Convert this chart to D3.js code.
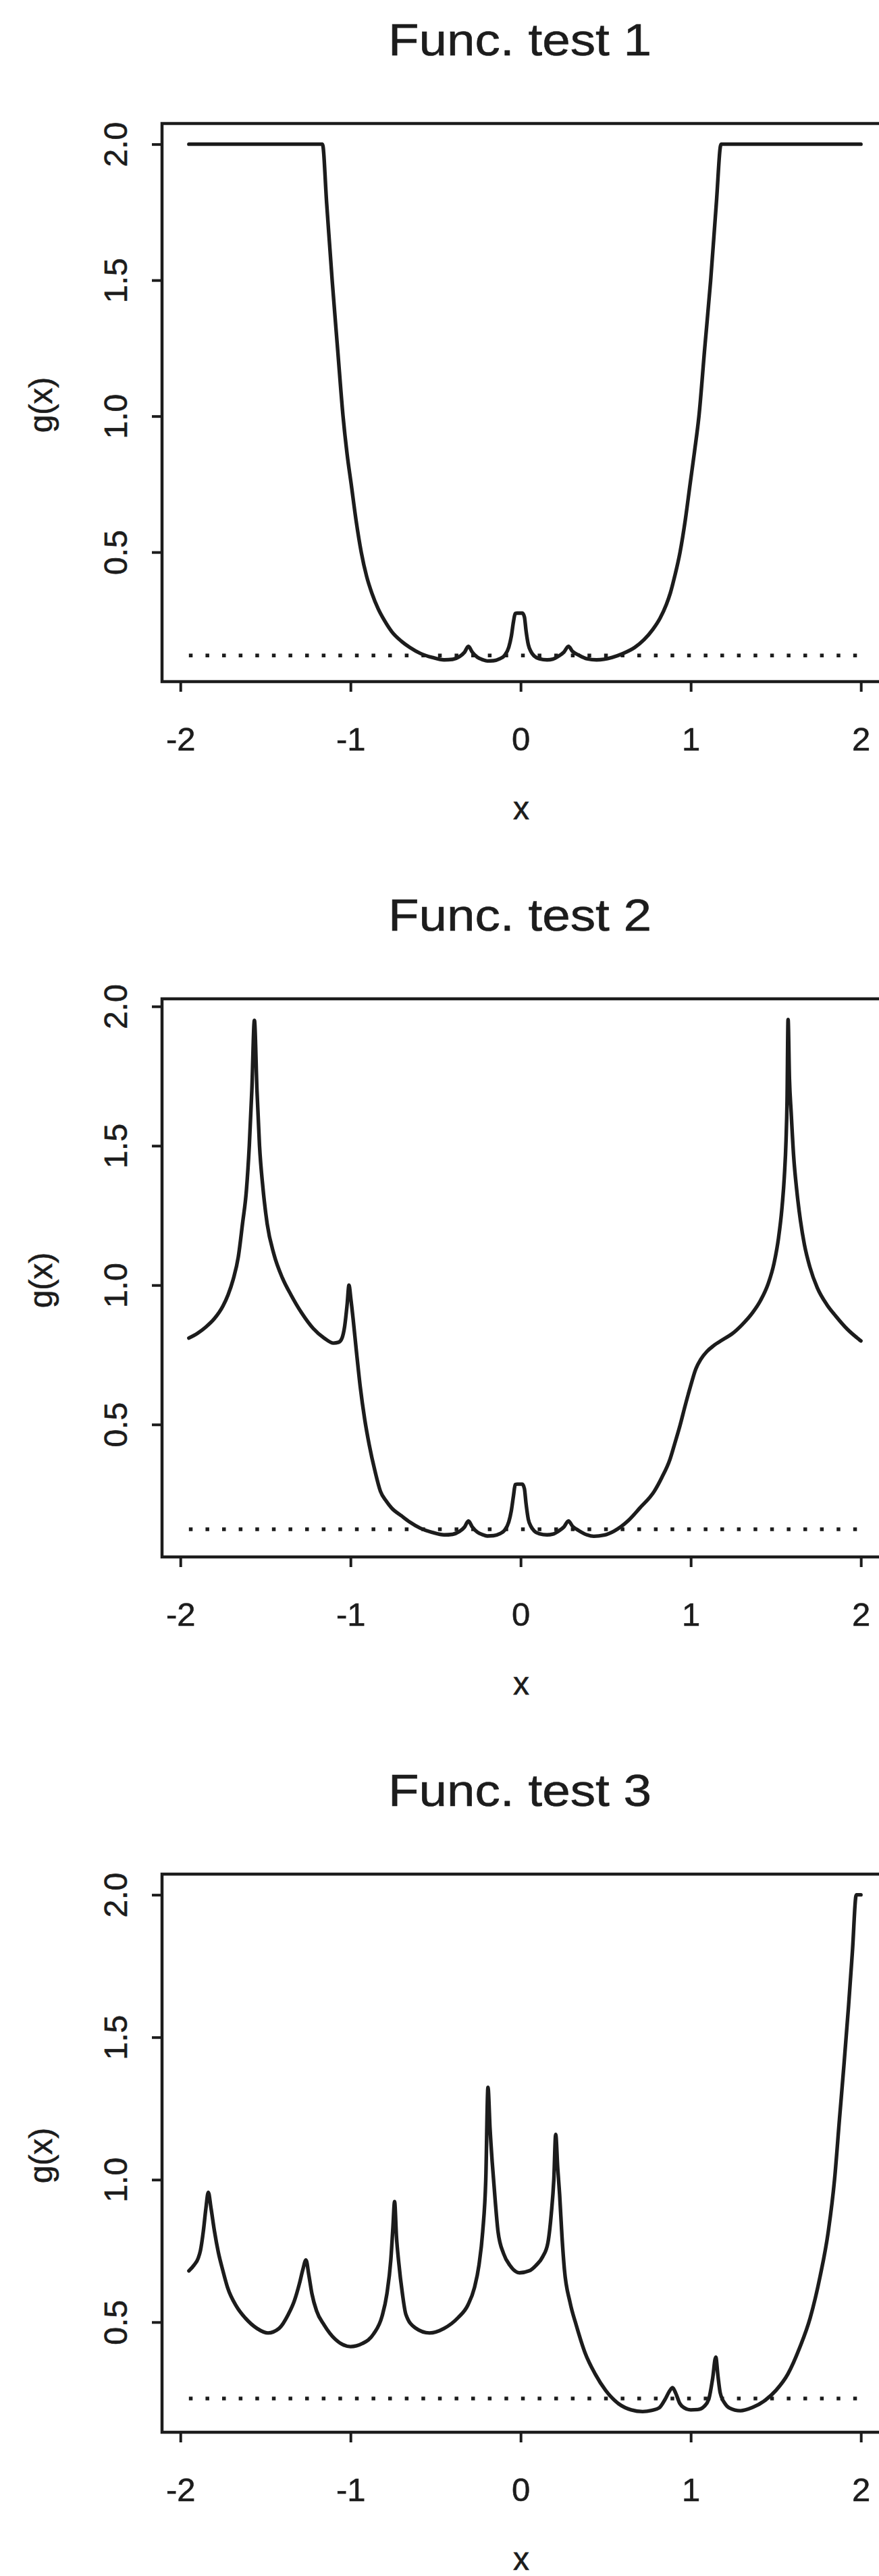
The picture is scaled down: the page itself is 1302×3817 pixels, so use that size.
<!DOCTYPE html>
<html><head><meta charset="utf-8">
<script src="https://cdn.jsdelivr.net/npm/d3@7"></script>
<style>body{margin:0;background:#fff}text{font-family:"Liberation Sans",Arial,Helvetica,sans-serif;fill:#1c1c1c;stroke:#1c1c1c;stroke-width:0.6px}</style>
</head><body>
<svg id="c" width="1302" height="3817"></svg>
<script>
// ---- data ----
const titles = ["Func. test 1", "Func. test 2", "Func. test 3"];
const xTicks = [-2, -1, 0, 1, 2];
const yTicks = [0.5, 1.0, 1.5, 2.0];
const xLabel = "x";
const yLabel = "g(x)";
const refLevels = [0.12, 0.124, 0.232];   // dotted horizontal reference lines
const refRange = [-1.95, 2.0];

const test1X = [-1.95,-1.165,-1.14,-1.108,-1.075,-1.044,-1.02,-0.996,-0.967,-0.937,-0.905,-0.875,-0.837,-0.80,-0.758,-0.70,-0.652,-0.59,-0.52,-0.45,-0.40,-0.36,-0.33,-0.307,-0.285,-0.255,-0.225,-0.196,-0.16,-0.123,-0.095,-0.07,-0.055,-0.042,-0.032,-0.02,0.01,0.022,0.032,0.045,0.06,0.08,0.11,0.155,0.19,0.221,0.255,0.281,0.305,0.34,0.39,0.446,0.49,0.538,0.60,0.671,0.725,0.777,0.82,0.856,0.88,0.905,0.937,0.967,0.996,1.022,1.048,1.082,1.117,1.15,1.178,2.0];
const test1G = [2.0,2.0,1.78,1.5,1.24,1.0,0.86,0.75,0.615,0.5,0.41,0.35,0.291,0.248,0.208,0.172,0.150,0.128,0.113,0.104,0.106,0.116,0.132,0.154,0.133,0.114,0.105,0.100,0.101,0.108,0.12,0.150,0.19,0.245,0.274,0.276,0.276,0.262,0.21,0.16,0.135,0.118,0.108,0.104,0.107,0.117,0.133,0.154,0.135,0.122,0.108,0.104,0.106,0.113,0.127,0.150,0.178,0.216,0.258,0.307,0.35,0.41,0.5,0.615,0.75,0.87,1.0,1.25,1.5,1.78,2.0,2.0];

const test2X = [-1.95,-1.90,-1.85,-1.80,-1.75,-1.72,-1.69,-1.66,-1.635,-1.612,-1.595,-1.58,-1.565,-1.55,-1.535,-1.515,-1.49,-1.45,-1.40,-1.35,-1.287,-1.22,-1.155,-1.10,-1.07,-1.05,-1.035,-1.02,-1.009,-0.998,-0.985,-0.965,-0.943,-0.917,-0.89,-0.857,-0.824,-0.79,-0.758,-0.70,-0.652,-0.59,-0.52,-0.45,-0.40,-0.36,-0.33,-0.307,-0.285,-0.255,-0.225,-0.196,-0.16,-0.123,-0.095,-0.07,-0.055,-0.042,-0.032,-0.02,0.01,0.022,0.032,0.045,0.06,0.08,0.11,0.155,0.19,0.221,0.255,0.281,0.305,0.34,0.39,0.43,0.49,0.55,0.632,0.70,0.785,0.83,0.876,0.905,0.937,0.968,0.998,1.03,1.059,1.095,1.135,1.19,1.242,1.30,1.363,1.41,1.455,1.49,1.516,1.535,1.55,1.56,1.566,1.572,1.58,1.59,1.605,1.623,1.645,1.668,1.70,1.744,1.80,1.851,1.92,2.0];
const test2G = [0.81,0.827,0.85,0.88,0.925,0.965,1.02,1.10,1.22,1.34,1.50,1.70,1.95,1.70,1.50,1.35,1.22,1.11,1.025,0.965,0.90,0.845,0.81,0.792,0.795,0.81,0.85,0.93,1.0,0.95,0.88,0.76,0.636,0.52,0.427,0.335,0.260,0.225,0.200,0.172,0.150,0.128,0.113,0.104,0.106,0.116,0.132,0.154,0.133,0.114,0.105,0.100,0.101,0.108,0.12,0.150,0.19,0.245,0.284,0.286,0.286,0.27,0.215,0.16,0.135,0.118,0.108,0.104,0.107,0.117,0.133,0.154,0.135,0.12,0.104,0.099,0.103,0.118,0.155,0.20,0.26,0.31,0.372,0.43,0.497,0.57,0.636,0.70,0.734,0.762,0.783,0.805,0.825,0.857,0.901,0.945,1.005,1.08,1.17,1.27,1.39,1.52,1.66,1.953,1.74,1.62,1.46,1.34,1.23,1.145,1.065,0.99,0.93,0.89,0.842,0.80];

const test3X = [-1.95,-1.92,-1.895,-1.882,-1.865,-1.85,-1.836,-1.82,-1.80,-1.777,-1.75,-1.723,-1.67,-1.618,-1.55,-1.485,-1.42,-1.366,-1.33,-1.30,-1.28,-1.262,-1.245,-1.227,-1.20,-1.155,-1.09,-1.0,-0.93,-0.864,-0.815,-0.786,-0.763,-0.751,-0.741,-0.73,-0.717,-0.695,-0.675,-0.62,-0.536,-0.45,-0.369,-0.31,-0.272,-0.245,-0.223,-0.205,-0.192,-0.18,-0.167,-0.15,-0.133,-0.10,-0.063,-0.007,0.05,0.09,0.13,0.16,0.18,0.195,0.206,0.218,0.229,0.243,0.257,0.29,0.327,0.38,0.438,0.50,0.577,0.65,0.717,0.77,0.814,0.85,0.875,0.893,0.912,0.935,0.962,1.0,1.041,1.08,1.107,1.128,1.147,1.16,1.173,1.20,1.226,1.292,1.36,1.438,1.50,1.571,1.64,1.702,1.76,1.808,1.845,1.874,1.90,1.927,1.95,1.973,2.0];
const test3G = [0.68,0.70,0.725,0.752,0.82,0.90,0.956,0.90,0.82,0.745,0.68,0.622,0.555,0.514,0.478,0.462,0.478,0.527,0.575,0.636,0.685,0.718,0.665,0.60,0.54,0.49,0.44,0.414,0.425,0.459,0.52,0.60,0.72,0.83,0.923,0.80,0.712,0.60,0.528,0.48,0.462,0.478,0.515,0.56,0.62,0.70,0.818,1.0,1.324,1.18,1.06,0.93,0.818,0.74,0.699,0.673,0.68,0.699,0.73,0.778,0.88,1.0,1.159,1.04,0.949,0.80,0.686,0.57,0.489,0.39,0.318,0.26,0.213,0.192,0.186,0.19,0.199,0.23,0.258,0.27,0.25,0.215,0.199,0.192,0.193,0.205,0.232,0.30,0.377,0.31,0.252,0.215,0.199,0.189,0.20,0.226,0.26,0.318,0.41,0.515,0.66,0.817,1.0,1.212,1.40,1.606,1.80,2.0,2.0];

const panels = [
  {title: titles[0], xs: test1X, gs: test1G, ref: refLevels[0]},
  {title: titles[1], xs: test2X, gs: test2G, ref: refLevels[1]},
  {title: titles[2], xs: test3X, gs: test3G, ref: refLevels[2]}
];

// ---- layout ----
const svg = d3.select("#c");
svg.append("rect").attr("width",1302).attr("height",3817).attr("fill","#fff");
const panelH = 1297;
const L = 240, R = 1315, T = 183, B = 1010;
const ink = "#1c1c1c";
const fontFam = '"Liberation Sans",Arial,sans-serif';

function rExtent(v){ const [a,b] = d3.extent(v); const e = 0.04*(b-a); return [a-e, b+e]; }

panels.forEach((p, i) => {
  const g = svg.append("g").attr("transform", `translate(0,${i*panelH})`);
  const x = d3.scaleLinear().domain(rExtent(p.xs)).range([L, R]);
  const y = d3.scaleLinear().domain(rExtent(p.gs)).range([B, T]);
  const pts = p.xs.map((v, k) => [v, p.gs[k]]);

  // title
  g.append("text").attr("x", 770).attr("y", 82).attr("text-anchor","middle")
    .attr("font-size", 67).attr("textLength", 390).attr("lengthAdjust", "spacingAndGlyphs")
    .text(p.title);

  // frame
  g.append("rect").attr("x", L).attr("y", T).attr("width", R-L).attr("height", B-T)
    .attr("fill","none").attr("stroke", ink).attr("stroke-width", 4.5);

  // x axis
  const ax = g.append("g").attr("transform", `translate(0,${B})`)
    .call(d3.axisBottom(x).tickValues(xTicks).tickSize(15).tickFormat(d => String(d)));
  ax.select(".domain").remove();
  ax.selectAll(".tick line").attr("stroke", ink).attr("stroke-width", 4);
  ax.selectAll(".tick text").attr("y", 102).attr("dy", 0).attr("font-size", 49)
    .attr("fill", ink).style("font-family", fontFam);

  // y axis
  const ay = g.append("g").attr("transform", `translate(${L},0)`)
    .call(d3.axisLeft(y).tickValues(yTicks).tickSize(15).tickFormat(d => d.toFixed(1)));
  ay.select(".domain").remove();
  ay.selectAll(".tick line").attr("stroke", ink).attr("stroke-width", 4);
  ay.selectAll(".tick text").attr("x", 0).attr("y", 0).attr("dy", 0)
    .attr("transform", "translate(-52,0) rotate(-90)").attr("text-anchor","middle")
    .attr("font-size", 48).attr("fill", ink).style("font-family", fontFam);

  // axis labels
  g.append("text").attr("x", 772).attr("y", 1214).attr("text-anchor","middle")
    .attr("font-size", 48).text(xLabel);
  g.append("text").attr("transform", "translate(77,600) rotate(-90)").attr("text-anchor","middle")
    .attr("font-size", 48).text(yLabel);

  // dotted reference line
  g.append("path").datum(refRange.map(v => [v, p.ref]))
    .attr("d", d3.line().x(d => x(d[0])).y(d => y(d[1])))
    .attr("fill","none").attr("stroke", ink).attr("stroke-width", 5.5)
    .attr("stroke-dasharray", "5.5 19.1");

  // curve
  g.append("path").datum(pts)
    .attr("d", d3.line().x(d => x(d[0])).y(d => y(d[1])).curve(d3.curveMonotoneX))
    .attr("fill","none").attr("stroke", ink).attr("stroke-width", 5.4)
    .attr("stroke-linejoin","round").attr("stroke-linecap","round");
});
</script>
</body></html>
